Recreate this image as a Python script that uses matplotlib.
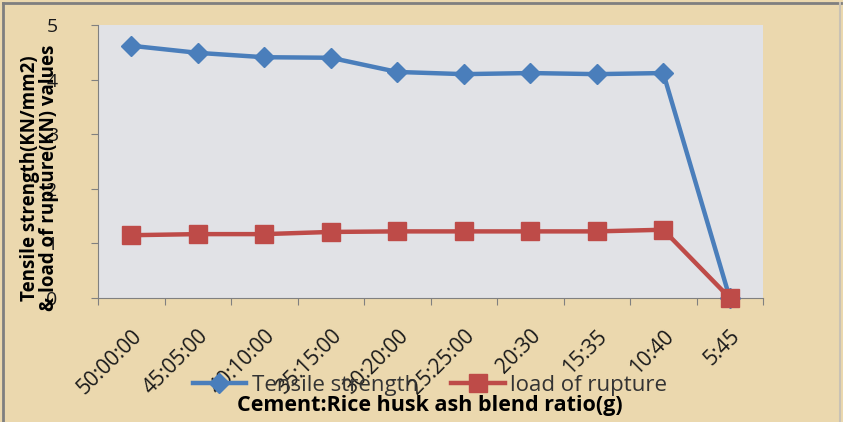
import matplotlib.pyplot as plt
import numpy as np
from matplotlib.lines import Line2D

# data
ratios = ['50:00:00', '45:05:00', '40:10:00', '35:15:00', '30:20:00',
          '25:25:00', '20:30', '15:35', '10:40', '5:45']
tensile = [4.62, 4.49, 4.41, 4.40, 4.14, 4.10, 4.12, 4.10, 4.12, 0.0]
rupture = [1.15, 1.17, 1.17, 1.21, 1.22, 1.22, 1.22, 1.22, 1.25, 0.0]

plt.rcParams['font.family'] = ['Open Sans', 'DejaVu Sans']

W, H = 843, 422
fig = plt.figure(figsize=(W / 100, H / 100), dpi=100)
fig.patch.set_facecolor('#EBD8AE')
# frame lines (left/top darker, right lighter)
fig.lines.append(Line2D([3 / W, 3 / W], [0, 1 - 3 / H], transform=fig.transFigure,
                        color='#7F7F7F', linewidth=2))
fig.lines.append(Line2D([3 / W, 1 - 2 / W], [1 - 3 / H, 1 - 3 / H], transform=fig.transFigure,
                        color='#7F7F7F', linewidth=2))
fig.lines.append(Line2D([1 - 3 / W, 1 - 3 / W], [0, 1 - 3 / H], transform=fig.transFigure,
                        color='#C9C2B5', linewidth=1.5))

ax = fig.add_axes([98 / W, 1 - 298 / H, 665 / W, 273 / H])
ax.set_facecolor('#E1E2E6')

x = np.arange(len(ratios))
ax.plot(x, tensile, color='#4A7EBB', linewidth=3.2, marker='D', markersize=10.5,
        label='Tensile strength', clip_on=False, zorder=3)
ax.plot(x, rupture, color='#BE4B48', linewidth=3.2, marker='s', markersize=13,
        label='load of rupture', clip_on=False, zorder=4)

ax.set_xlim(-0.5, len(ratios) - 0.5)
ax.set_ylim(0, 5)

# ticks at category boundaries, labels at centres
ax.set_xticks(np.arange(-0.5, len(ratios), 1))
ax.set_xticklabels([])
ax.set_xticks(x, minor=True)
ax.set_xticklabels(ratios, minor=True, rotation=45, ha='right', va='top',
                   rotation_mode='anchor', fontsize=15, color='#1A1A1A')
ax.tick_params(axis='x', which='major', length=5, color='#808080')
ax.tick_params(axis='x', which='minor', length=0, pad=20)

ax.set_yticks(range(0, 6))
ax.tick_params(axis='y', length=5, color='#808080', pad=24, labelsize=14,
               labelcolor='#1A1A1A')

for s in ['top', 'right']:
    ax.spines[s].set_visible(False)
for s in ['left', 'bottom']:
    ax.spines[s].set_color('#808080')

ax.set_ylabel('Tensile strength(KN/mm2)\n& load of rupture(KN) values',
              fontsize=13.5, fontweight='bold', linespacing=0.95)
ax.yaxis.set_label_coords(-0.058, 0.44)

fig.legend(loc='center', bbox_to_anchor=(430 / W, 1 - 385 / H), ncol=2,
           frameon=False, fontsize=16, handlelength=2.4, columnspacing=1.5,
           handletextpad=0.25, borderpad=0, labelcolor='#333333')

fig.text(430 / W, 1 - 406 / H, 'Cement:Rice husk ash blend ratio(g)',
         ha='center', va='center', fontsize=15.5, fontweight='bold')

plt.savefig('out.png', dpi=100, facecolor=fig.get_facecolor())
